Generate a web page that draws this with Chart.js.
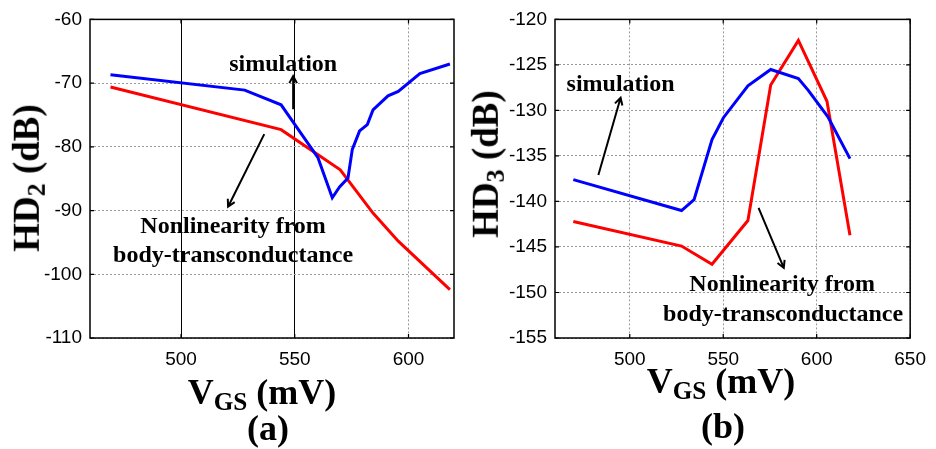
<!DOCTYPE html>
<html>
<head>
<meta charset="utf-8">
<script src="https://cdn.jsdelivr.net/npm/chart.js@4"></script>
<style>
  body { margin: 0; background: #fff; }
  #wrap { position: relative; width: 936px; height: 449px; overflow: hidden; }
  canvas { position: absolute; top: 0; }
  .lab { position: absolute; font-family: "Liberation Serif", "Times New Roman", serif; font-weight: bold;
         color: #000; white-space: nowrap; line-height: 1; transform: translate(-50%, -50%); }
  .lab sub { font-size: 70%; vertical-align: -0.25em; }
  .rot { transform: translate(-50%, -50%) rotate(-90deg); }
</style>
</head>
<body>
<div id="wrap">
  <canvas id="ca" width="466" height="449" style="left:0"></canvas>
  <canvas id="cb" width="470" height="449" style="left:466px"></canvas>
  <div class="lab rot" style="left:29px;top:178px;font-size:37px">HD<sub>2</sub> (dB)</div>
  <div class="lab" style="left:262px;top:394px;font-size:36px">V<sub>GS</sub> (mV)</div>
  <div class="lab" style="left:268px;top:428px;font-size:36px">(a)</div>
  <div class="lab rot" style="left:488px;top:164px;font-size:37px">HD<sub>3</sub> (dB)</div>
  <div class="lab" style="left:721px;top:383px;font-size:36px">V<sub>GS</sub> (mV)</div>
  <div class="lab" style="left:723px;top:426px;font-size:36px">(b)</div>
</div>
<script>
// (a) HD2 vs VGS
const vgsA_sim = [469, 528, 544, 560.2, 566.5, 569.7, 573.4, 575.3, 578.5, 581.9, 584.4, 591, 595.5, 605, 618.2];
const hd2_sim = [-68.7, -71.1, -73.4, -81.7, -88.0, -86.3, -84.9, -80.4, -77.5, -76.5, -74.2, -72.0, -71.3, -68.5, -67.0];
const vgsA_body = [469, 544, 570, 584.4, 595.5, 618.2];
const hd2_body = [-70.6, -77.3, -83.6, -90.4, -94.8, -102.4];
const xTicksA = [500, 550, 600];

// (b) HD3 vs VGS
const vgsB_sim = [469.8, 527.7, 534.4, 544, 550.1, 563.2, 575.4, 590.2, 595.5, 606, 617.8];
const hd3_sim = [-137.6, -141.0, -139.8, -133.2, -130.8, -127.3, -125.5, -126.5, -127.8, -130.7, -135.3];
const vgsB_body = [469.8, 527.7, 544, 563.2, 575.4, 590.2, 605.5, 617.8];
const hd3_body = [-142.2, -144.9, -146.9, -142.1, -127.2, -122.3, -129.0, -143.7];
const xTicksB = [500, 550, 600, 650];

const pts = (xs, ys) => xs.map((x, i) => ({ x: x, y: ys[i] }));

// frame, inner tick marks and the text notes with arrows
const notesPlugin = {
  id: 'notes',
  afterDraw(chart, args, opts) {
    const ctx = chart.ctx, a = chart.chartArea;
    const sx = chart.scales.x, sy = chart.scales.y;
    ctx.save();
    ctx.strokeStyle = '#000';
    ctx.lineWidth = 1.5;
    ctx.strokeRect(a.left, a.top, a.right - a.left, a.bottom - a.top);
    ctx.lineWidth = 1.2;
    ctx.beginPath();
    sx.ticks.forEach(t => {
      const px = sx.getPixelForValue(t.value);
      ctx.moveTo(px, a.bottom); ctx.lineTo(px, a.bottom - 4);
      ctx.moveTo(px, a.top); ctx.lineTo(px, a.top + 4);
    });
    sy.ticks.forEach(t => {
      const py = sy.getPixelForValue(t.value);
      ctx.moveTo(a.left, py); ctx.lineTo(a.left + 4, py);
      ctx.moveTo(a.right, py); ctx.lineTo(a.right - 4, py);
    });
    ctx.stroke();

    ctx.fillStyle = '#000';
    ctx.font = 'bold 24px "Liberation Serif", serif';
    ctx.textAlign = 'center';
    ctx.textBaseline = 'alphabetic';
    (opts.texts || []).forEach(t => {
      ctx.fillText(t.text, sx.getPixelForValue(t.x), sy.getPixelForValue(t.y));
    });
    ctx.lineWidth = 2;
    (opts.arrows || []).forEach(ar => {
      const x1 = sx.getPixelForValue(ar.from[0]), y1 = sy.getPixelForValue(ar.from[1]);
      const x2 = sx.getPixelForValue(ar.to[0]), y2 = sy.getPixelForValue(ar.to[1]);
      const ang = Math.atan2(y2 - y1, x2 - x1);
      ctx.beginPath();
      ctx.moveTo(x1, y1); ctx.lineTo(x2, y2);
      ctx.moveTo(x2 - 8 * Math.cos(ang - 0.5), y2 - 8 * Math.sin(ang - 0.5));
      ctx.lineTo(x2, y2);
      ctx.lineTo(x2 - 8 * Math.cos(ang + 0.5), y2 - 8 * Math.sin(ang + 0.5));
      ctx.stroke();
    });
    ctx.restore();
  }
};

function makeChart(id, cfg) {
  return new Chart(document.getElementById(id), {
    type: 'line',
    data: {
      datasets: [
        { data: pts(cfg.simX, cfg.simY), borderColor: '#0000ff', borderWidth: 3, pointRadius: 0, tension: 0 },
        { data: pts(cfg.bodyX, cfg.bodyY), borderColor: '#ff0000', borderWidth: 3, pointRadius: 0, tension: 0 }
      ]
    },
    options: {
      responsive: false,
      animation: false,
      layout: { padding: { top: 15, right: cfg.padRight, left: 0, bottom: 0 } },
      plugins: {
        legend: { display: false },
        tooltip: { enabled: false },
        notes: { texts: cfg.texts, arrows: cfg.arrows }
      },
      scales: {
        x: {
          type: 'linear',
          min: cfg.xMin, max: cfg.xMax,
          afterBuildTicks: s => { s.ticks = cfg.xTicks.map(v => ({ value: v })); },
          afterFit: s => { s.height = 111; },
          grid: { drawTicks: false, color: cfg.xGridColor, lineWidth: 1 },
          border: { display: false, dash: cfg.xGridDash },
          ticks: { color: '#000', padding: 10, font: { family: '"Liberation Sans", Arial, sans-serif', size: 19 } }
        },
        y: {
          min: cfg.yMin, max: cfg.yMax,
          ticks: { stepSize: cfg.yStep, color: '#000', padding: 8,
                   font: { family: '"Liberation Sans", Arial, sans-serif', size: 19 } },
          afterFit: s => { s.width = cfg.yWidth; },
          grid: { drawTicks: false, color: '#999', lineWidth: 1 },
          border: { display: false, dash: [2, 2] }
        }
      }
    },
    plugins: [notesPlugin]
  });
}

makeChart('ca', {
  simX: vgsA_sim, simY: hd2_sim, bodyX: vgsA_body, bodyY: hd2_body,
  xMin: 460, xMax: 620, xTicks: xTicksA, yMin: -110, yMax: -60, yStep: 10,
  yWidth: 90, padRight: 12,
  xGridColor: c => (c.tick && c.tick.value < 575 ? '#000' : '#999'),
  xGridDash: c => (c.tick && c.tick.value < 575 ? [] : [2, 2]),
  texts: [
    { text: 'simulation', x: 544.9, y: -68.05 },
    { text: 'Nonlinearity from', x: 522.9, y: -93.6 },
    { text: 'body-transconductance', x: 522.9, y: -98.1 }
  ],
  arrows: [
    { from: [549.3, -74.1], to: [549.3, -68.9] },
    { from: [536.6, -78.0], to: [520.7, -89.4] }
  ]
});

makeChart('cb', {
  simX: vgsB_sim, simY: hd3_sim, bodyX: vgsB_body, bodyY: hd3_body,
  xMin: 460, xMax: 650, xTicks: xTicksB, yMin: -155, yMax: -120, yStep: 5,
  yWidth: 89, padRight: 18,
  xGridColor: '#999',
  xGridDash: [2, 2],
  texts: [
    { text: 'simulation', x: 495.1, y: -127.9 },
    { text: 'Nonlinearity from', x: 581.5, y: -149.8 },
    { text: 'body-transconductance', x: 582.0, y: -153.1 }
  ],
  arrows: [
    { from: [483.2, -137.1], to: [495.1, -128.6] },
    { from: [568.9, -140.7], to: [582.4, -147.3] }
  ]
});
</script>
</body>
</html>
